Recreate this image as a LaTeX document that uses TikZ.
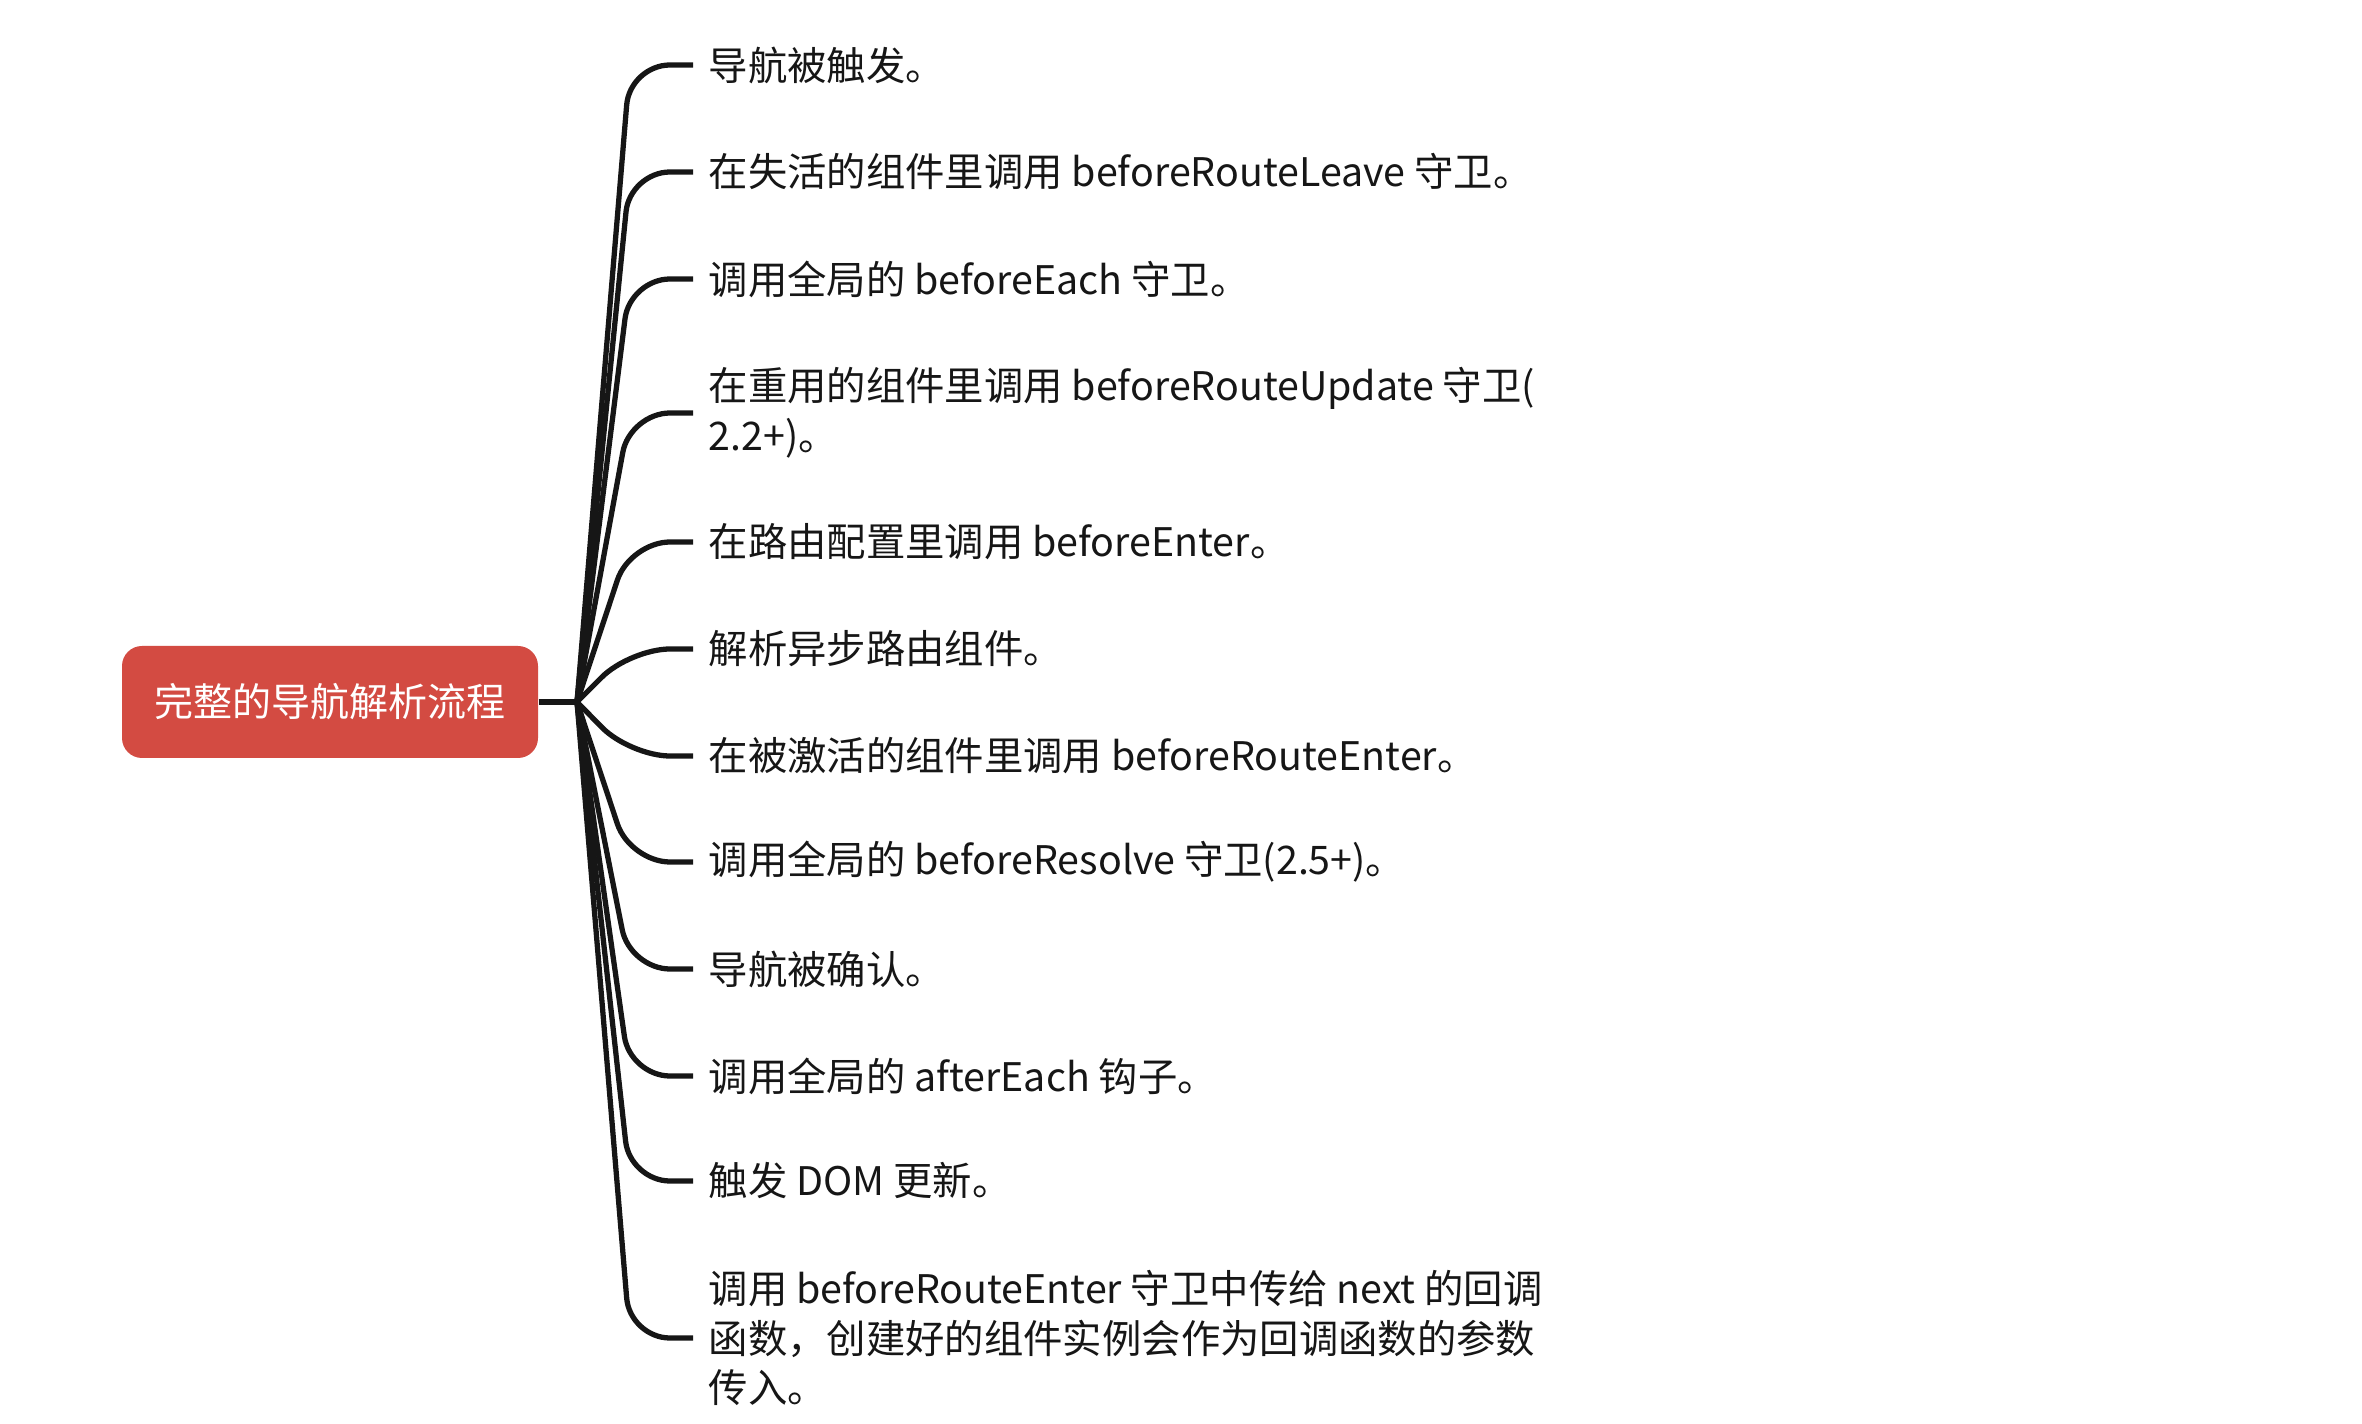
\documentclass[tikz,border=0pt]{standalone}
\usepackage{fontspec}
\setmainfont{Noto Sans CJK SC}
\usepackage{tikz}
\usetikzlibrary{positioning,calc}
\usepackage{xcolor}
\definecolor{rootred}{RGB}{211,75,66}
\definecolor{linkblk}{RGB}{22,22,22}
\tikzset{
  topic/.style={fill=rootred,text=white,rounded corners=0.2cm,
                minimum width=4.16cm,minimum height=1.12cm,inner sep=0pt,
                font=\fontsize{11.1pt}{13pt}\selectfont},
  step box/.style={anchor=west,align=left,inner xsep=0.15cm,inner ysep=0pt,
                text=linkblk,font=\fontsize{11.2pt}{14.2pt}\selectfont},
  lnk/.style ={draw=linkblk,line width=1.5pt,rounded corners=4mm},
}
\begin{document}
\begin{tikzpicture}
  \useasboundingbox (0,0) rectangle (23.62,-14.24);
  \node [topic] (root) at (3.30,-7.02) {完整的导航解析流程};
  \coordinate (j) at (5.77,-7.02);
  \coordinate (k) at (6.30,-7.02);
  \node [step box] (s1)  at (6.93,-0.65)  {导航被触发。};
  \node [step box] (s2)  at (6.93,-1.72)  {在失活的组件里调用 beforeRouteLeave 守卫。};
  \node [step box] (s3)  at (6.93,-2.79)  {调用全局的 beforeEach 守卫。};
  \node [step box] (s4)  at (6.93,-4.13)  {在重用的组件里调用 beforeRouteUpdate 守卫(\\2.2+)。};
  \node [step box] (s5)  at (6.93,-5.42)  {在路由配置里调用 beforeEnter。};
  \node [step box] (s6)  at (6.93,-6.49)  {解析异步路由组件。};
  \node [step box] (s7)  at (6.93,-7.56)  {在被激活的组件里调用 beforeRouteEnter。};
  \node [step box] (s8)  at (6.93,-8.62)  {调用全局的 beforeResolve 守卫(2.5+)。};
  \node [step box] (s9)  at (6.93,-9.69)  {导航被确认。};
  \node [step box] (s10) at (6.93,-10.76) {调用全局的 afterEach 钩子。};
  \node [step box] (s11) at (6.93,-11.81) {触发 DOM 更新。};
  \node [step box] (s12) at (6.93,-13.38) {调用 beforeRouteEnter 守卫中传给 next 的回调\\函数，创建好的组件实例会作为回调函数的参数\\传入。};
  \draw [lnk] (root.east) -- (j);
  \draw [lnk] (j) -- (k |- s1.west)  -- (s1.west);
  \draw [lnk] (j) -- (k |- s2.west)  -- (s2.west);
  \draw [lnk] (j) -- (k |- s3.west)  -- (s3.west);
  \draw [lnk] (j) -- (k |- s4.west)  -- (s4.west);
  \draw [lnk] (j) -- (k |- s5.west)  -- (s5.west);
  \draw [lnk] (j) -- (k |- s6.west)  -- (s6.west);
  \draw [lnk] (j) -- (k |- s7.west)  -- (s7.west);
  \draw [lnk] (j) -- (k |- s8.west)  -- (s8.west);
  \draw [lnk] (j) -- (k |- s9.west)  -- (s9.west);
  \draw [lnk] (j) -- (k |- s10.west) -- (s10.west);
  \draw [lnk] (j) -- (k |- s11.west) -- (s11.west);
  \draw [lnk] (j) -- (k |- s12.west) -- (s12.west);
\end{tikzpicture}
\end{document}
